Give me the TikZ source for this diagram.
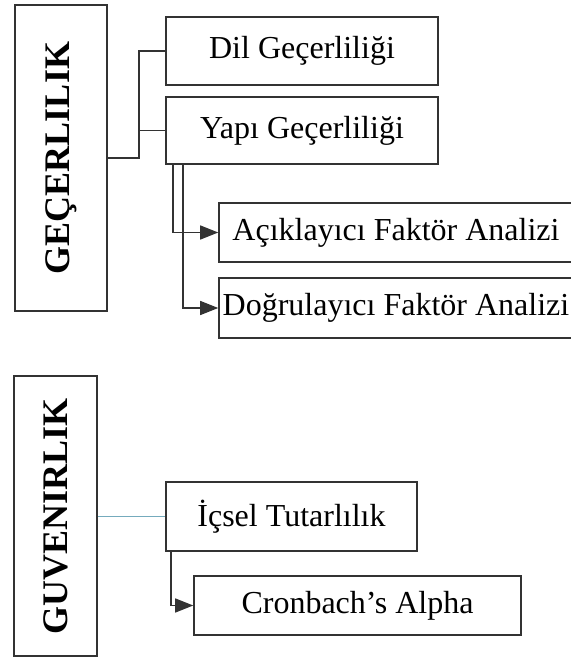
\documentclass[tikz,border=0pt]{standalone}
\usepackage{fontspec}
\setmainfont{Liberation Serif}
\usetikzlibrary{arrows.meta}

\begin{document}
\begin{tikzpicture}[x=1pt,y=-1pt,
    box/.style={draw=black!80, line width=1.6pt, inner sep=0pt, font=\fontsize{32}{36}\selectfont},
    sidebox/.style={draw=black!80, line width=1.8pt, inner sep=0pt, font=\fontsize{36}{40}\selectfont\bfseries},
    link/.style={draw=black!80, line width=1.5pt},
    arrowlink/.style={link, -{Triangle[length=18pt,width=14pt]}}]
  \useasboundingbox (0,0) rectangle (570,658);

  % Gecerlilik part
  \node[sidebox, minimum width=92pt, minimum height=306pt] (gecerlilik) at (61,158) {\rotatebox{90}{GEÇERLILIK}};
  \node[box, minimum width=272pt, minimum height=68pt] (dil) at (302,51) {Dil Geçerliliği};
  \node[box, minimum width=272pt, minimum height=67pt] (yapi) at (302,130.5) {Yapı Geçerliliği};
  \node[box, minimum width=354pt, minimum height=59pt] (aciklayici) at (396,232.5) {Açıklayıcı Faktör Analizi};
  \node[box, minimum width=354pt, minimum height=60pt] (dogrulayici) at (396,308) {Doğrulayıcı Faktör Analizi};

  \coordinate (split) at (139,158);
  \draw[link] (gecerlilik.east |- split) -- (split) |- (dil.west);
  \draw[link] (split |- yapi.west) -- (yapi.west);
  \draw[arrowlink] ([xshift=8pt]yapi.south west) |- (aciklayici.west);
  \draw[arrowlink] ([xshift=18pt]yapi.south west) |- (dogrulayici.west);

  % Guvenirlik part
  \node[sidebox, minimum width=83pt, minimum height=280pt] (guvenirlik) at (55.5,516) {\rotatebox{90}{GUVENIRLIK}};
  \node[box, minimum width=251pt, minimum height=69pt] (icsel) at (291.5,516.5) {İçsel Tutarlılık};
  \node[box, minimum width=327pt, minimum height=59pt] (cronbach) at (357.5,605.5) {Cronbach’s Alpha};

  \draw[line width=1pt, color=blue!25!cyan!35!gray!80] (guvenirlik.east |- icsel.west) -- (icsel.west);
  \draw[arrowlink] ([xshift=6pt]icsel.south west) |- (cronbach.west);
\end{tikzpicture}
\end{document}
